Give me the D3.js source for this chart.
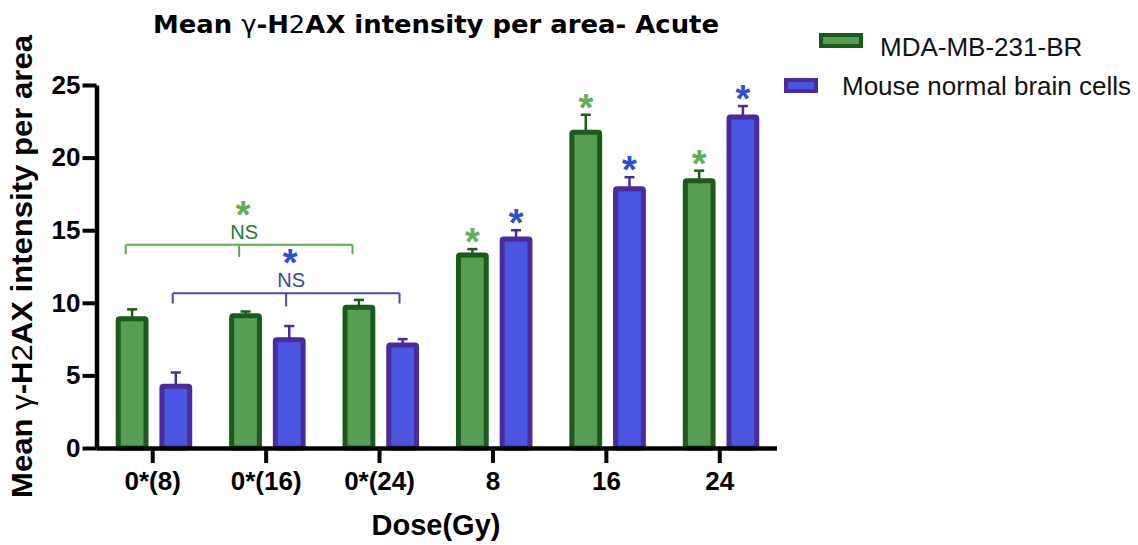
<!DOCTYPE html>
<html>
<head>
<meta charset="utf-8">
<script src="https://cdn.jsdelivr.net/npm/d3@7"></script>
<style>
  body { margin: 0; background: #fff; }
  svg { display: block; font-family: "Liberation Sans", Arial, sans-serif; }
</style>
</head>
<body>
<script>
// Chart data
const categories = ["0*(8)", "0*(16)", "0*(24)", "8", "16", "24"];
const seriesNames = ["MDA-MB-231-BR", "Mouse normal brain cells"];
const mdaMeans = [8.9, 9.1, 9.7, 13.3, 21.75, 18.4];
const mdaErrors = [0.65, 0.3, 0.5, 0.4, 1.2, 0.7];
const brainMeans = [4.25, 7.45, 7.1, 14.4, 17.85, 22.8];
const brainErrors = [0.95, 0.95, 0.4, 0.6, 0.8, 0.75];
const significant = [false, false, false, true, true, true];
const yTicks = [0, 5, 10, 15, 20, 25];

// NS brackets over the sham (0 Gy) groups, one per series
const bracketCats = ["0*(8)", "0*(16)", "0*(24)"];
const bracketLevel = [14.0, 10.65];
const bracketEnd = [13.35, 9.95];
const bracketMid = [13.15, 9.75];

const w = 1138;
const h = 545;

const fills = ["#579d54", "#4a55e0"];
const strokes = ["#1b5a1b", "#4b2a9c"];
const starColors = ["#5fae55", "#2a4fd0"];
const bracketColors = ["#5faa50", "#4a48b0"];
const nsColors = ["#1f7a3c", "#3a44b0"];

const svg = d3.select("body").append("svg")
  .attr("width", w)
  .attr("height", h);

// scales
const x = d3.scaleBand()
  .domain(categories)
  .range([96, 776.5])
  .padding(0);

const x1 = d3.scaleBand()
  .domain(seriesNames)
  .range([-37, 39.5])
  .paddingInner(0.25);

const y = d3.scaleLinear()
  .domain([0, 25])
  .range([448, 85]);

const rows = categories.map((c, i) => ({
  cat: c,
  values: [
    { s: 0, name: seriesNames[0], mean: mdaMeans[i], err: mdaErrors[i], sig: significant[i] },
    { s: 1, name: seriesNames[1], mean: brainMeans[i], err: brainErrors[i], sig: significant[i] }
  ]
}));

// title
const title = svg.append("text")
  .attr("x", 436)
  .attr("y", 33)
  .attr("text-anchor", "middle")
  .attr("font-family", "'DejaVu Sans', sans-serif")
  .attr("font-size", 24)
  .attr("font-weight", "bold")
  .attr("textLength", 566)
  .attr("lengthAdjust", "spacingAndGlyphs");
title.append("tspan").text("Mean ");
title.append("tspan").attr("font-weight", "normal").text("γ");
title.append("tspan").text("-H");
title.append("tspan").attr("font-weight", "normal").text("2");
title.append("tspan").text("AX intensity per area- Acute");

// bars
const groups = svg.append("g").selectAll("g")
  .data(rows)
  .join("g")
  .attr("transform", d => `translate(${x(d.cat) + x.bandwidth() / 2},0)`);

const bw = x1.bandwidth();

// error bars (drawn first so the bar outline covers the base)
groups.selectAll("g.err")
  .data(d => d.values)
  .join("g")
  .attr("class", "err")
  .each(function(d) {
    const g = d3.select(this);
    const cx = x1(d.name) + bw / 2;
    g.append("line")
      .attr("x1", cx).attr("x2", cx)
      .attr("y1", y(d.mean)).attr("y2", y(d.mean + d.err))
      .attr("stroke", strokes[d.s]).attr("stroke-width", 2.5);
    g.append("line")
      .attr("x1", cx - 5).attr("x2", cx + 5)
      .attr("y1", y(d.mean + d.err)).attr("y2", y(d.mean + d.err))
      .attr("stroke", strokes[d.s]).attr("stroke-width", 2.5);
  });

groups.selectAll("rect")
  .data(d => d.values)
  .join("rect")
  .attr("x", d => x1(d.name) + 2.5)
  .attr("width", bw - 5)
  .attr("y", d => y(d.mean))
  .attr("height", d => y(0) - y(d.mean))
  .attr("fill", d => fills[d.s])
  .attr("stroke", d => strokes[d.s])
  .attr("stroke-width", 5)
  .attr("rx", 1.5);

// significance stars above the irradiated groups
groups.selectAll("text.star")
  .data(d => d.values.filter(v => v.sig))
  .join("text")
  .attr("class", "star")
  .attr("x", d => x1(d.name) + bw / 2)
  .attr("y", d => y(d.mean + d.err) - 13 + 19)
  .attr("text-anchor", "middle")
  .attr("font-size", 38)
  .attr("font-weight", "bold")
  .attr("fill", d => starColors[d.s])
  .text("*");

// NS brackets
const bracketOffset = [-27, 20];
bracketLevel.forEach((lvl, s) => {
  const xs = bracketCats.map(c => x(c) + x.bandwidth() / 2 + bracketOffset[s]);
  const g = svg.append("g")
    .attr("stroke", bracketColors[s])
    .attr("stroke-width", 2)
    .attr("fill", "none");
  g.append("line")
    .attr("x1", xs[0]).attr("x2", xs[2])
    .attr("y1", y(lvl)).attr("y2", y(lvl));
  xs.forEach((xx, i) => {
    g.append("line")
      .attr("x1", xx).attr("x2", xx)
      .attr("y1", y(lvl))
      .attr("y2", i === 1 ? y(bracketMid[s]) : y(bracketEnd[s]));
  });
  svg.append("text")
    .attr("x", xs[1] + 5)
    .attr("y", y(lvl) - 6)
    .attr("text-anchor", "middle")
    .attr("font-size", 20)
    .attr("fill", nsColors[s])
    .text("NS");
  svg.append("text")
    .attr("x", xs[1] + 4)
    .attr("y", y(lvl) - 36 + 19)
    .attr("text-anchor", "middle")
    .attr("font-size", 38)
    .attr("font-weight", "bold")
    .attr("fill", starColors[s])
    .text("*");
});

// axes
const yAxis = svg.append("g")
  .attr("transform", "translate(96.5,0)")
  .call(d3.axisLeft(y).tickValues(yTicks).tickSize(14).tickSizeOuter(0).tickPadding(2));

const xAxis = svg.append("g")
  .attr("transform", `translate(0,${y(0)})`)
  .call(d3.axisBottom(x).tickSize(15).tickSizeOuter(0).tickPadding(9));

[yAxis, xAxis].forEach(a => {
  a.select(".domain").attr("stroke", "#000").attr("stroke-width", 4.5);
  a.selectAll(".tick line").attr("stroke", "#000").attr("stroke-width", 4);
  a.selectAll(".tick text")
    .attr("fill", "#000")
    .attr("font-size", 26)
    .attr("font-weight", "bold")
    .attr("font-family", "'Liberation Sans', Arial, sans-serif");
});

// axis titles
svg.append("text")
  .attr("x", 436)
  .attr("y", 535)
  .attr("text-anchor", "middle")
  .attr("font-size", 29)
  .attr("font-weight", "bold")
  .text("Dose(Gy)");

const yLabel = svg.append("text")
  .attr("transform", "translate(32,498) rotate(-90)")
  .attr("font-size", 30)
  .attr("font-weight", "bold")
  .attr("textLength", 463)
  .attr("lengthAdjust", "spacingAndGlyphs");
yLabel.append("tspan").text("Mean ");
yLabel.append("tspan").attr("font-weight", "normal").text("γ");
yLabel.append("tspan").text("-H");
yLabel.append("tspan").attr("font-weight", "normal").text("2");
yLabel.append("tspan").text("AX intensity per area");

// legend
const legendBoxes = [
  { x: 821, y: 35, w: 40, h: 11 },
  { x: 786, y: 80, w: 30, h: 11 }
];
const legendText = [{ x: 880, y: 56 }, { x: 842, y: 95 }];
seriesNames.forEach((name, s) => {
  svg.append("rect")
    .attr("x", legendBoxes[s].x).attr("y", legendBoxes[s].y)
    .attr("width", legendBoxes[s].w).attr("height", legendBoxes[s].h)
    .attr("fill", fills[s])
    .attr("stroke", strokes[s])
    .attr("stroke-width", 4);
  svg.append("text")
    .attr("x", legendText[s].x).attr("y", legendText[s].y)
    .attr("font-size", 26)
    .attr("fill", "#111")
    .text(name);
});
</script>
</body>
</html>
